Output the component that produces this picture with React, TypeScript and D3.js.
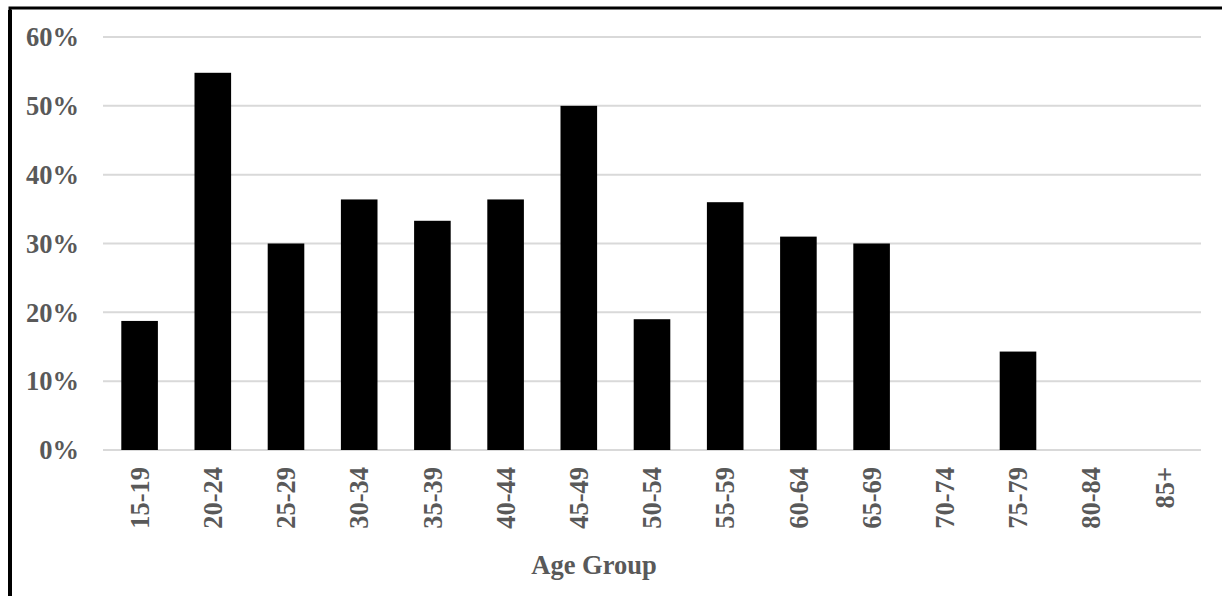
import * as React from "react";
import * as d3 from "d3";

const ageGroups = ["15-19", "20-24", "25-29", "30-34", "35-39", "40-44", "45-49", "50-54", "55-59", "60-64", "65-69", "70-74", "75-79", "80-84", "85+"];
const shares = [0.1875, 0.548, 0.3, 0.364, 0.333, 0.364, 0.5, 0.19, 0.36, 0.31, 0.3, 0, 0.143, 0, 0];
const yTicks = [0, 0.1, 0.2, 0.3, 0.4, 0.5, 0.6];

const W = 1222;
const H = 596;
const left = 103;
const right = 1201;
const top = 37;
const bottom = 450;
const textColor = "#595959";
const font = "'Liberation Serif', 'Times New Roman', serif";
const fs = 26.5;

export default function App() {
  const x = React.useMemo(
    () => d3.scaleBand().domain(ageGroups).range([left, right]).paddingInner(0.5).paddingOuter(0.25),
    []
  );
  const y = React.useMemo(() => d3.scaleLinear().domain([0, 0.6]).range([bottom, top]), []);
  const fmt = d3.format(".0%");

  return (
    <svg
      width={W}
      height={H}
      style={{ position: "absolute", left: 0, top: 0, background: "#fff" }}
      fontFamily={font}
    >
      <rect x={0} y={0} width={W} height={H} fill="#fff" />
      <path d={`M10,${H} V8 H${W}`} fill="none" stroke="#000" strokeWidth={3} />
      <path d={`M10,${H} V10`} fill="none" stroke="#000" strokeWidth={4} />
      {yTicks.map((t) => (
        <g key={t}>
          <line x1={left} x2={right} y1={y(t)} y2={y(t)} stroke="#d9d9d9" strokeWidth={2} />
          <text
            x={79}
            y={y(t)}
            dy="0.35em"
            textAnchor="end"
            fontSize={fs}
            fontWeight="bold"
            fill={textColor}
          >
            {fmt(t)}
          </text>
        </g>
      ))}
      {ageGroups.map((g, i) => (
        <rect
          key={g}
          x={x(g)}
          y={y(shares[i])}
          width={x.bandwidth()}
          height={bottom - y(shares[i])}
          fill="#000"
        />
      ))}
      {ageGroups.map((g) => {
        const cx = (x(g) ?? 0) + x.bandwidth() / 2;
        return (
          <text
            key={g}
            transform={`translate(${cx},467) rotate(-90)`}
            textAnchor="end"
            dy="0.35em"
            fontSize={fs}
            fontWeight="bold"
            fill={textColor}
          >
            {g}
          </text>
        );
      })}
      <text
        x={594}
        y={574}
        textAnchor="middle"
        fontSize={fs}
        fontWeight="bold"
        fill={textColor}
      >
        Age Group
      </text>
    </svg>
  );
}
